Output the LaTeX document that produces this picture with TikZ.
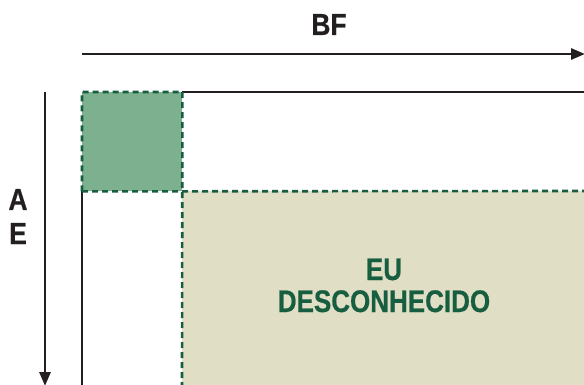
\documentclass[tikz,border=0pt]{standalone}
\usepackage{fontspec}
\setmainfont{Liberation Sans}
\newfontfamily\heavyfont{Liberation Sans Bold}[FakeBold=0.6]
\usetikzlibrary{arrows.meta}
\definecolor{dkgreen}{HTML}{175E40}
\definecolor{sqgreen}{HTML}{7DB08E}
\definecolor{beige}{HTML}{E0DEC5}
\definecolor{inkblack}{HTML}{231F20}
\tikzset{
  axisarrow/.style={draw=inkblack, line width=2.8pt, -{Triangle[length=14pt,width=11pt]}},
  frameline/.style={draw=inkblack, line width=1.7pt},
  dashline/.style={draw=dkgreen, line width=2.6pt, dash pattern=on 6pt off 4pt},
  axislabel/.style={font=\heavyfont\fontsize{26.5}{30}\selectfont, text=inkblack, anchor=base, inner sep=0pt, yscale=1.15, transform shape},
  regionlabel/.style={font=\heavyfont\fontsize{26}{30}\selectfont, text=dkgreen, anchor=base, inner sep=0pt, yscale=1.2, transform shape}
}
\begin{document}
\begin{tikzpicture}[x=1pt,y=-1pt]
\useasboundingbox (0,0) rectangle (584,385);
% regions
\node[fill=beige, minimum width=402pt, minimum height=194pt, inner sep=0pt, anchor=north west] (unknown) at (182,191) {};
\node[fill=sqgreen, minimum width=100pt, minimum height=99pt, inner sep=0pt, anchor=north west] (open) at (82,92) {};
% frame
\coordinate (tr) at (584,92);
\coordinate (bl) at (82,385);
\draw[frameline] (open.north east) -- (tr);
\draw[frameline] (open.south west) -- (bl);
% dashed borders
\coordinate (hend) at (584,191);
\coordinate (vend) at (182,385);
\draw[dashline] (open.south west) -- (open.north west) -- (open.north east) -- (vend);
\draw[dashline] (open.south west) -- (hend);
% axes
\coordinate (hstart) at (82,54);
\coordinate (hstop) at (585,54);
\coordinate (vstart) at (45,92);
\coordinate (vstop) at (45,386);
\draw[axisarrow] (hstart) -- (hstop);
\draw[axisarrow] (vstart) -- (vstop);
% labels
\node[axislabel] (bf) at (329,35) {BF};
\node[axislabel] (a) at (18,210) {A};
\node[axislabel] (e) at (18,244) {E};
\node[regionlabel] (eu) at (384,280) {EU};
\node[regionlabel] (desc) at (384,312) {DESCONHECIDO};
\end{tikzpicture}
\end{document}
